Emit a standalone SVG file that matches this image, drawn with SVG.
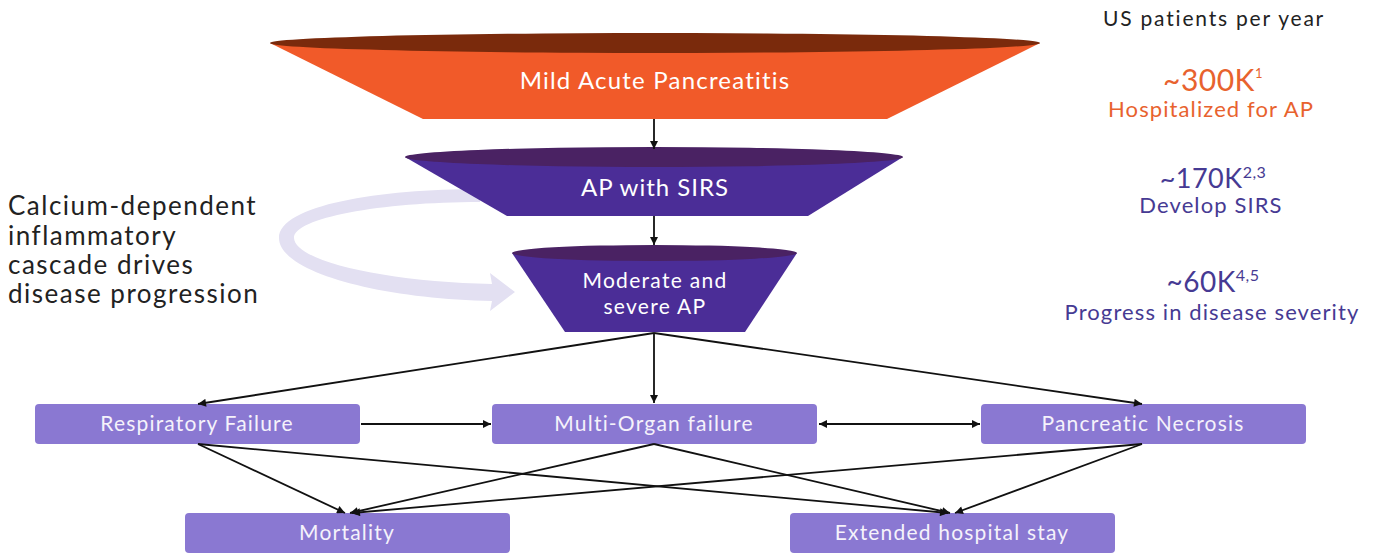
<svg xmlns="http://www.w3.org/2000/svg" width="1373" height="556" viewBox="0 0 1373 556">
<defs>
<style>
text{font-family:Lato,"Noto Sans","Liberation Sans",sans-serif;}
.wt{fill:#FFFFFF;text-anchor:middle;}
.box{fill:#8A78D2;}
.bl{fill:#F5F2FB;font-size:21px;letter-spacing:1.2px;text-anchor:middle;}
.ln{stroke:#111;stroke-width:1.8;fill:none;}
.or{fill:#E8622E;text-anchor:middle;}
.pu{fill:#463A93;text-anchor:middle;}
.sub{font-size:22px;letter-spacing:1.1px;}
.lt{fill:#222;font-size:26px;letter-spacing:1.5px;}
</style>
<marker id="ah" viewBox="0 0 10 10" refX="10" refY="5" markerWidth="9" markerHeight="8" markerUnits="userSpaceOnUse" orient="auto-start-reverse">
<path d="M0,0 L10,5 L0,10 z" fill="#111"/>
</marker>
</defs>
<g id="cascade-arrow">
<path d="M480,189 C380,189 279,205 279,238 C279,272 380,299 492,301 L490,311 L515,292 L490,273 L492,284 C390,282 295,262 294,238 C294,218 380,202 480,202 Z" fill="#E3E0F2"/>
</g>
<g id="funnel-mild">
<path d="M270,43 L1040,43 L887,119 L423,119 Z" fill="#F15A29"/>
<ellipse cx="655" cy="43" rx="385" ry="10" fill="#7A2A0C"/>
<text class="wt" x="655" y="89" font-size="24" letter-spacing="1.2">Mild Acute Pancreatitis</text>
</g>
<g id="funnel-sirs">
<path d="M405,157 L903,157 L808,216 L507,216 Z" fill="#4B2D97"/>
<ellipse cx="654" cy="157" rx="249" ry="10" fill="#4A2263"/>
<text class="wt" x="655" y="196" font-size="24" letter-spacing="1">AP with SIRS</text>
</g>
<g id="funnel-severe">
<path d="M512,253 L797,253 L745,332 L565,332 Z" fill="#4B2D97"/>
<ellipse cx="654.5" cy="253" rx="142.5" ry="8" fill="#4A2263"/>
<text class="wt" x="655" y="288" font-size="21" letter-spacing="1.3">Moderate and</text>
<text class="wt" x="655" y="314" font-size="21" letter-spacing="1.3">severe AP</text>
</g>
<g id="node-resp">
<rect class="box" x="35" y="404" width="325" height="40" rx="4"/>
<text class="bl" x="197" y="431">Respiratory Failure</text>
</g>
<g id="node-multi">
<rect class="box" x="492" y="404" width="325" height="40" rx="4"/>
<text class="bl" x="654" y="431">Multi-Organ failure</text>
</g>
<g id="node-necrosis">
<rect class="box" x="981" y="404" width="325" height="40" rx="4"/>
<text class="bl" x="1143" y="431">Pancreatic Necrosis</text>
</g>
<g id="node-mortality">
<rect class="box" x="185" y="513" width="325" height="40" rx="4"/>
<text class="bl" x="347" y="540">Mortality</text>
</g>
<g id="node-stay">
<rect class="box" x="790" y="513" width="325" height="40" rx="4"/>
<text class="bl" x="952" y="540">Extended hospital stay</text>
</g>
<g id="connectors">
<line class="ln" x1="654" y1="119" x2="654" y2="149" marker-end="url(#ah)"/>
<line class="ln" x1="654" y1="216" x2="654" y2="245" marker-end="url(#ah)"/>
<line class="ln" x1="654" y1="333" x2="198" y2="404" marker-end="url(#ah)"/>
<line class="ln" x1="654" y1="333" x2="654" y2="403" marker-end="url(#ah)"/>
<line class="ln" x1="654" y1="333" x2="1142" y2="404" marker-end="url(#ah)"/>
<line class="ln" x1="361" y1="424" x2="491" y2="424" marker-end="url(#ah)"/>
<line class="ln" x1="819" y1="424" x2="980" y2="424" marker-start="url(#ah)" marker-end="url(#ah)"/>
<line class="ln" x1="198" y1="444" x2="345" y2="513" marker-end="url(#ah)"/>
<line class="ln" x1="198" y1="444" x2="948" y2="513" marker-end="url(#ah)"/>
<line class="ln" x1="654" y1="444" x2="350" y2="513" marker-end="url(#ah)"/>
<line class="ln" x1="654" y1="444" x2="950" y2="513" marker-end="url(#ah)"/>
<line class="ln" x1="1142" y1="444" x2="352" y2="513" marker-end="url(#ah)"/>
<line class="ln" x1="1142" y1="444" x2="955" y2="513" marker-end="url(#ah)"/>
</g>
<g id="stats">
<text x="1214" y="26" font-size="21" letter-spacing="1.8" fill="#222" text-anchor="middle">US patients per year</text>
<text class="or" x="1213" y="91" font-size="30" letter-spacing="0.5">~300K<tspan font-size="13" dy="-13">1</tspan></text>
<text class="or sub" x="1211" y="117">Hospitalized for AP</text>
<text class="pu" x="1213" y="188" font-size="27" letter-spacing="0.5">~170K<tspan font-size="16" dy="-10">2,3</tspan></text>
<text class="pu sub" x="1211" y="213" letter-spacing="1.5">Develop SIRS</text>
<text class="pu" x="1213" y="292" font-size="28" letter-spacing="0.5">~60K<tspan font-size="16" dy="-11">4,5</tspan></text>
<text class="pu sub" x="1212" y="320">Progress in disease severity</text>
</g>
<g id="side-note">
<text class="lt" x="8" y="215">Calcium-dependent</text>
<text class="lt" x="8" y="245">inflammatory</text>
<text class="lt" x="8" y="274">cascade drives</text>
<text class="lt" x="8" y="303">disease progression</text>
</g>
</svg>
